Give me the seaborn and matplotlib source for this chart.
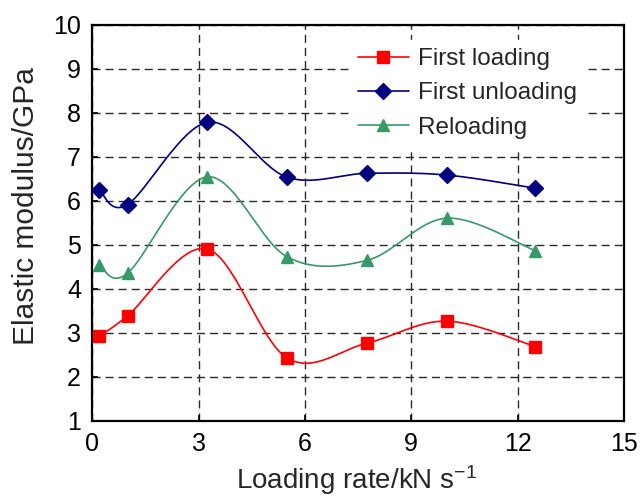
import numpy as np
import pandas as pd
import seaborn as sns
import matplotlib
matplotlib.use("Agg")
import matplotlib.pyplot as plt
from matplotlib.lines import Line2D

# Loading rate (kN/s) and elastic modulus (GPa) for each loading stage
rate = [0.2, 1.0, 3.25, 5.5, 7.75, 10.0, 12.5]
first_loading = [2.93, 3.39, 4.91, 2.43, 2.77, 3.27, 2.69]
first_unloading = [6.25, 5.92, 7.79, 6.54, 6.63, 6.59, 6.29]
reloading = [4.55, 4.36, 6.55, 4.73, 4.65, 5.61, 4.87]

series_names = ["First loading", "First unloading", "Reloading"]
x_ticks = [0, 3, 6, 9, 12, 15]
y_ticks = [1, 2, 3, 4, 5, 6, 7, 8, 9, 10]


def smooth_curve(x, y, n=60):
    """Smoothed connecting line (cubic Bezier segments, Catmull-Rom tangents)."""
    P = np.column_stack([x, y]).astype(float)
    ext = np.vstack([P[0], P, P[-1]])
    t = np.linspace(0, 1, n)[:, None]
    out = []
    for i in range(len(P) - 1):
        p0, p1, p2, p3 = ext[i], ext[i + 1], ext[i + 2], ext[i + 3]
        b0 = p1
        b1 = p1 + (p2 - p0) / 6.0
        b2 = p2 - (p3 - p1) / 6.0
        b3 = p2
        seg = ((1 - t) ** 3) * b0 + 3 * ((1 - t) ** 2) * t * b1 \
            + 3 * (1 - t) * t ** 2 * b2 + t ** 3 * b3
        out.append(seg if i == 0 else seg[1:])
    c = np.vstack(out)
    return c[:, 0], c[:, 1]


sns.set_theme(style="white")
plt.rcParams["font.family"] = ["Liberation Sans", "DejaVu Sans"]
plt.rcParams["mathtext.fontset"] = "custom"
plt.rcParams["mathtext.rm"] = "Liberation Sans"
plt.rcParams["mathtext.default"] = "regular"

colors = {"First loading": "#ff0000",
          "First unloading": "#000080",
          "Reloading": "#379a66"}
markers = {"First loading": "s", "First unloading": "D", "Reloading": "^"}
msizes = {"First loading": 8.8, "First unloading": 8.2, "Reloading": 9.2}

points = pd.DataFrame({
    "rate": rate * 3,
    "modulus": first_loading + first_unloading + reloading,
    "stage": [n for n in series_names for _ in rate],
})

curves = []
for name, vals in zip(series_names, [first_loading, first_unloading, reloading]):
    xs, ys = smooth_curve(rate, vals)
    curves.append(pd.DataFrame({"rate": xs, "modulus": ys, "stage": name}))
curves = pd.concat(curves, ignore_index=True)

fig = plt.figure(figsize=(6.4, 5.0), dpi=100)
ax = fig.add_axes([0.144, 0.158, 0.831, 0.792])

sns.lineplot(data=curves, x="rate", y="modulus", hue="stage", palette=colors,
             units="stage", estimator=None, sort=False, linewidth=1.2,
             legend=False, ax=ax, zorder=3)
for name in series_names:
    sub = points[points["stage"] == name]
    ax.plot(sub["rate"], sub["modulus"], linestyle="none", marker=markers[name],
            markersize=msizes[name], color=colors[name], zorder=4)

ax.set_xlim(0, 15)
ax.set_ylim(1, 10)
ax.set_xticks(x_ticks)
ax.set_yticks(y_ticks)
ax.grid(True, color="#2a2a2a", linestyle=(0, (5.8, 3.6)), linewidth=1.0)
ax.set_axisbelow(True)
for s in ax.spines.values():
    s.set_color("black")
    s.set_linewidth(1.6)
ax.tick_params(axis="both", direction="in", length=4, width=1.2, labelsize=18,
               colors="black", pad=8, bottom=True, left=True)
ax.set_xlabel("Loading rate/kN s$^{-1}$", fontsize=20)
ax.set_ylabel("Elastic modulus/GPa", fontsize=21.5)
ax.xaxis.set_label_coords(0.497, -0.107)
ax.yaxis.set_label_coords(-0.098, 0.543)

handles = [Line2D([0], [0], color=colors[n], marker=markers[n],
                  markersize=msizes[n] * 0.95, linewidth=1.2) for n in series_names]
leg = ax.legend(handles, series_names, loc="upper left",
                bbox_to_anchor=(0.483, 0.963), fontsize=17.5, frameon=True,
                fancybox=False, handlelength=2.1, handletextpad=0.37,
                labelspacing=0.5, borderpad=0.35, borderaxespad=0.0)
leg.get_frame().set_facecolor("white")
leg.get_frame().set_edgecolor("white")
leg.get_frame().set_alpha(1.0)

fig.savefig("out.png", dpi=100)
